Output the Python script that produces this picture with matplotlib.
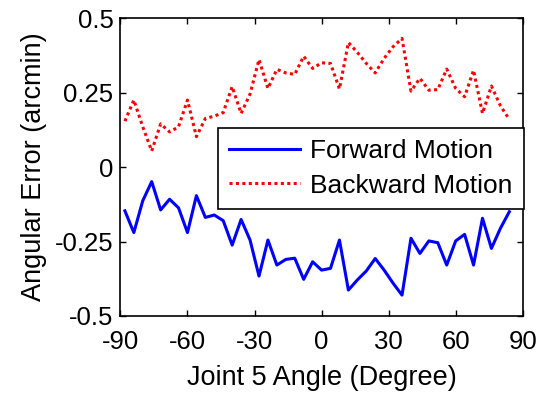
import numpy as np
import matplotlib
matplotlib.use("Agg")
import matplotlib.pyplot as plt

plt.rcParams["font.family"] = ["Liberation Sans", "DejaVu Sans"]

# joint angle samples (degree)
angles = np.arange(-88, 85, 4)

forward_err = [
    -0.147, -0.220, -0.113, -0.049, -0.144, -0.108, -0.137, -0.220, -0.096, -0.169,
    -0.161, -0.180, -0.262, -0.176, -0.245, -0.366, -0.245, -0.329, -0.310, -0.306,
    -0.377, -0.318, -0.346, -0.340, -0.245, -0.413, -0.379, -0.349, -0.307, -0.346,
    -0.390, -0.430, -0.239, -0.290, -0.248, -0.254, -0.329, -0.248, -0.226, -0.329,
    -0.172, -0.273, -0.206, -0.150,
]
backward_err = [
    0.154, 0.225, 0.135, 0.054, 0.145, 0.118, 0.135, 0.225, 0.102, 0.163,
    0.171, 0.183, 0.270, 0.180, 0.245, 0.361, 0.264, 0.328, 0.316, 0.311,
    0.372, 0.331, 0.350, 0.348, 0.262, 0.418, 0.385, 0.348, 0.316, 0.365,
    0.404, 0.432, 0.255, 0.298, 0.258, 0.260, 0.329, 0.264, 0.236, 0.325,
    0.180, 0.272, 0.206, 0.160,
]

xticks = [-90, -60, -30, 0, 30, 60, 90]
yticks = [-0.5, -0.25, 0, 0.25, 0.5]
ytick_labels = ["-0.5", "-0.25", "0", "0.25", "0.5"]

fig = plt.figure(figsize=(5.4, 3.94), dpi=100)
ax = fig.add_axes([0.223, 0.198, 0.745, 0.756])

ax.plot(angles, forward_err, color="#0000ff", lw=2.2, label="Forward Motion")
ax.plot(angles, backward_err, color="#ff0000", lw=2.2, linestyle=(0, (1, 1.1)),
        label="Backward Motion")

ax.set_xlim(-90, 90)
ax.set_ylim(-0.5, 0.5)
ax.set_xticks(xticks)
ax.set_xticklabels([str(t) for t in xticks])
ax.set_yticks(yticks)
ax.set_yticklabels(ytick_labels)
ax.tick_params(direction="in", top=True, right=True, labelsize=18.5, length=4,
               width=1, pad=5)
ax.tick_params(axis="x", pad=10)
for s in ax.spines.values():
    s.set_linewidth(1.2)

ax.set_xlabel("Joint 5 Angle (Degree)", fontsize=19.5, labelpad=8)
ax.set_ylabel("Angular Error (arcmin)", fontsize=19.5, labelpad=6)

leg = ax.legend(loc="upper right", bbox_to_anchor=(1.003, 0.631), fontsize=19,
                handlelength=2.7, fancybox=False, framealpha=1, edgecolor="black",
                borderpad=0.42, labelspacing=0.4, handletextpad=0.4,
                borderaxespad=0)
leg.get_frame().set_linewidth(1.2)

fig.savefig("out.png", dpi=100)
